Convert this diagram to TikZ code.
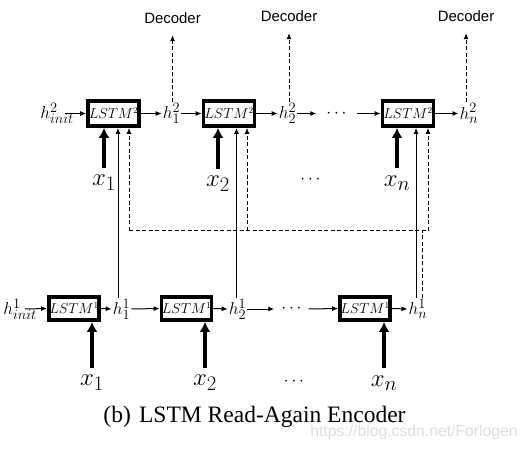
\documentclass[tikz,border=0pt]{standalone}
\usepackage{fontspec}
\newfontfamily\decfont{Liberation Sans}
\newfontfamily\capfont{Liberation Serif}
\usetikzlibrary{arrows.meta}
\begin{document}
\begin{tikzpicture}[x=1bp,y=-1bp,
 lstm/.style={draw, line width=3.8bp, minimum width=51bp, minimum height=25bp, inner sep=0pt, font=\fontsize{13.5}{14}\selectfont},
 lstmlow/.style={lstm, minimum width=50bp, minimum height=23bp},
 hlab/.style={inner sep=1bp, font=\fontsize{19}{20}\selectfont},
 xlab/.style={inner xsep=0pt, inner ysep=7.5bp, font=\fontsize{29}{30}\selectfont},
 dec/.style={inner xsep=0pt, inner ysep=11.5bp, font=\decfont\fontsize{15}{16}\selectfont},
 thinarr/.style={line width=1bp, -{Latex[length=6bp,width=5bp]}},
 thickarr/.style={line width=4bp, -{Latex[length=10bp,width=11bp]}},
 dsh/.style={line width=1bp, dash pattern=on 4bp off 2.5bp},
]
\useasboundingbox (0,0) rectangle (527,450);

% ---------- top row ----------
\node[hlab] (hi2) at (57,113.5) {$h^2_{init}$};
\node[lstm] (B21) at (113.5,113.5) {$LSTM^2$};
\node[hlab] (h21) at (171.5,113.5) {$h^2_1$};
\node[lstm] (B22) at (229,113.5) {$LSTM^2$};
\node[hlab] (h22) at (287.5,113.5) {$h^2_2$};
\node[hlab, inner xsep=10bp] (dt) at (336.5,113.5) {$\cdots$};
\node[lstm] (B2n) at (408,113.5) {$LSTM^2$};
\node[hlab] (h2n) at (469,113.5) {$h^2_n$};

\draw[thinarr] ([xshift=-9.5bp]hi2.east) -- (B21.west);
\draw[thinarr] (B21.east) -- (h21.west);
\draw[thinarr] (h21.east) -- (B22.west);
\draw[thinarr] (B22.east) -- (h22.west);
\draw[thinarr] (h22.east) -- (dt.west);
\draw[thinarr] (dt.east) -- (B2n.west);
\draw[thinarr] (B2n.east) -- (h2n.west);

\node[dec] (D1) at (172.5,18) {Decoder};
\node[dec] (D2) at (289,16) {Decoder};
\node[dec] (D3) at (466,16) {Decoder};
\draw[thinarr, dsh] (D1.south |- h21.north) -- (D1.south);
\draw[thinarr, dsh] (D2.south |- h22.north) -- (D2.south);
\draw[thinarr, dsh] (D3.south |- h2n.north) -- (D3.south);

\node[xlab] (x21) at (104,183) {$x_1$};
\node[xlab] (x22) at (218,184) {$x_2$};
\node[hlab] (dx2) at (310.5,180) {$\cdots$};
\node[xlab] (x2n) at (397,183) {$x_n$};
\draw[thickarr] (x21.north) -- (x21.north |- B21.south);
\draw[thickarr] (x22.north) -- (x22.north |- B22.south);
\draw[thickarr] (x2n.north) -- (x2n.north |- B2n.south);

% ---------- bottom row ----------
\node[hlab] (hi1) at (20,309) {$h^1_{init}$};
\node[lstmlow] (B11) at (74,308.5) {$LSTM^1$};
\node[hlab] (h11) at (121.5,309) {$h^1_1$};
\node[lstmlow] (B12) at (186.5,308.5) {$LSTM^1$};
\node[hlab] (h12) at (237.5,309) {$h^1_2$};
\node[hlab, inner xsep=7bp] (db) at (291.5,309) {$\cdots$};
\node[lstmlow] (B1n) at (365,308.5) {$LSTM^1$};
\node[hlab] (h1n) at (418,309) {$h^1_n$};

\draw[thinarr] ([xshift=-13bp]hi1.east) -- (B11.west);
\draw[thinarr] (B11.east) -- (h11.west);
\draw[thinarr] (h11.east) -- (B12.west);
\draw[thinarr] (B12.east) -- (h12.west);
\draw[thinarr] (h12.east) -- (db.west);
\draw[thinarr] (db.east) -- (B1n.west);
\draw[thinarr] (B1n.east) -- (h1n.west);

\node[xlab] (x11) at (92,383) {$x_1$};
\node[xlab] (x12) at (205,383) {$x_2$};
\node[hlab] (dx1) at (294,382) {$\cdots$};
\node[xlab] (x1n) at (384,383) {$x_n$};
\draw[thickarr] (x11.north) -- (x11.north |- B11.south);
\draw[thickarr] (x12.north) -- (x12.north |- B12.south);
\draw[thickarr] (x1n.north) -- (x1n.north |- B1n.south);

% ---------- read-again connections ----------
\draw[thinarr] ([xshift=-3.5bp]h11.north) -- ([xshift=-3.5bp]h11.north |- B21.south);
\draw[thinarr] ([xshift=-1bp]h12.north) -- ([xshift=-1bp]h12.north |- B22.south);
\draw[thinarr] ([xshift=-2bp]h1n.north) -- ([xshift=-2bp]h1n.north |- B2n.south);

\coordinate (c1) at (129,231);
\coordinate (c2) at (247,231);
\coordinate (c3) at (428,231);
\draw[dsh] ([xshift=4bp]h1n.north) -- ([xshift=4bp]h1n.north |- c1);
\draw[dsh] (c1) -- (c3);
\draw[thinarr, dsh] (c1) -- (c1 |- B21.south);
\draw[thinarr, dsh] (c2) -- (c2 |- B22.south);
\draw[thinarr, dsh] (c3) -- (c3 |- B2n.south);

% ---------- caption ----------
\node[anchor=base, inner sep=0pt, font=\capfont\fontsize{23.6}{26}\selectfont] (cap) at (254.5,422) {(b)\hspace{0.35em}LSTM Read-Again Encoder};
\node[inner sep=0pt, text=black!13, font=\decfont\fontsize{15.8}{17}\selectfont] (wm) at (414,432) {https://blog.csdn.net/Forlogen};
\end{tikzpicture}
\end{document}
